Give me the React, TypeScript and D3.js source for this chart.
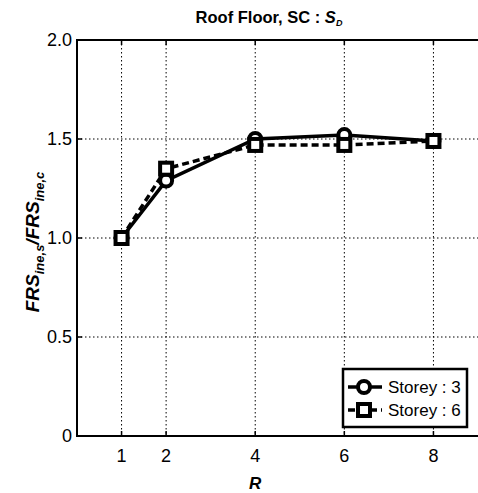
import React, { useEffect, useRef } from 'react';
import * as d3 from 'd3';

const rValues = [1, 2, 4, 6, 8];
const storey3 = [1.0, 1.29, 1.5, 1.52, 1.49];
const storey6 = [1.0, 1.35, 1.47, 1.47, 1.49];
const yTicks = [0, 0.5, 1.0, 1.5, 2.0];
const seriesNames = ['Storey : 3', 'Storey : 6'];

const App = () => {
    const ref = useRef<SVGSVGElement>(null);

    useEffect(() => {
        if (!ref.current) return;
        const svg = d3.select(ref.current);
        svg.selectAll('*').remove();

        const left = 77, right = 478, top = 40, bottom = 436;
        const x = d3.scaleLinear().domain([0, 9]).range([left, right]);
        const y = d3.scaleLinear().domain([0, 2]).range([bottom, top]);
        const font = 'Arial, Liberation Sans, sans-serif';

        svg.append('rect').attr('width', 478).attr('height', 493).attr('fill', 'white');

        // grid
        const grid = svg.append('g').attr('stroke', '#000').attr('stroke-width', 1).attr('stroke-dasharray', '1.5,2.5');
        rValues.forEach(v => {
            grid.append('line').attr('x1', x(v)).attr('x2', x(v)).attr('y1', top).attr('y2', bottom);
        });
        yTicks.slice(1, -1).forEach(v => {
            grid.append('line').attr('x1', left).attr('x2', right).attr('y1', y(v)).attr('y2', y(v));
        });

        // frame
        const frame = svg.append('g').attr('stroke', '#000').attr('stroke-width', 2).attr('fill', 'none');
        frame.append('line').attr('x1', left).attr('x2', right).attr('y1', top).attr('y2', top);
        frame.append('line').attr('x1', left).attr('x2', right).attr('y1', bottom).attr('y2', bottom);
        frame.append('line').attr('x1', left).attr('x2', left).attr('y1', top - 1).attr('y2', bottom + 1);

        // tick marks
        const ticks = svg.append('g').attr('stroke', '#000').attr('stroke-width', 1.5);
        rValues.forEach(v => {
            ticks.append('line').attr('x1', x(v)).attr('x2', x(v)).attr('y1', bottom).attr('y2', bottom - 5);
            ticks.append('line').attr('x1', x(v)).attr('x2', x(v)).attr('y1', top).attr('y2', top + 5);
        });
        yTicks.forEach(v => {
            ticks.append('line').attr('x1', left).attr('x2', left + 5).attr('y1', y(v)).attr('y2', y(v));
        });

        // tick labels
        svg.append('g').selectAll('text').data(rValues).join('text')
            .attr('x', d => x(d)).attr('y', bottom + 26)
            .attr('text-anchor', 'middle').attr('font-family', font).attr('font-size', 18)
            .text(d => d);
        svg.append('g').selectAll('text').data(yTicks).join('text')
            .attr('x', left - 5).attr('y', d => y(d) + 6)
            .attr('text-anchor', 'end').attr('font-family', font).attr('font-size', 18)
            .text(d => d === 0 ? '0' : d.toFixed(1));

        // title
        const title = svg.append('text').attr('x', 269).attr('y', 23).attr('text-anchor', 'middle')
            .attr('font-family', font).attr('font-size', 16.5).attr('font-weight', 'bold');
        title.append('tspan').text('Roof Floor, SC : ');
        title.append('tspan').attr('font-style', 'italic').text('S');
        title.append('tspan').attr('font-style', 'italic').attr('font-size', 9).attr('dy', 3).text('D');

        // axis labels
        svg.append('text').attr('x', x(4)).attr('y', 489).attr('text-anchor', 'middle')
            .attr('font-family', font).attr('font-size', 17).attr('font-weight', 'bold').attr('font-style', 'italic')
            .text('R');
        const yl = svg.append('text').attr('transform', `translate(39,${y(1) + 4}) rotate(-90)`)
            .attr('text-anchor', 'middle').attr('font-family', font).attr('font-size', 19)
            .attr('font-weight', 'bold').attr('font-style', 'italic');
        yl.append('tspan').text('FRS');
        yl.append('tspan').attr('font-size', 13).attr('dy', 5).text('ine,s');
        yl.append('tspan').attr('dy', -5).text('/FRS');
        yl.append('tspan').attr('font-size', 13).attr('dy', 5).text('ine,c');

        const line = d3.line<number>().x((_, i) => x(rValues[i])).y(d => y(d));
        const series = [
            { vals: storey3, dash: null as string | null, marker: 'circle' },
            { vals: storey6, dash: '7,4', marker: 'square' },
        ];

        const drawMarker = (g: any, cx: number, cy: number, type: string) => {
            if (type === 'circle') {
                g.append('circle').attr('cx', cx).attr('cy', cy).attr('r', 6)
                    .attr('fill', 'white').attr('stroke', '#000').attr('stroke-width', 4);
            } else {
                g.append('rect').attr('x', cx - 6).attr('y', cy - 6).attr('width', 12).attr('height', 12)
                    .attr('fill', 'white').attr('stroke', '#000').attr('stroke-width', 4);
            }
        };

        series.forEach(s => {
            svg.append('path').datum(s.vals).attr('d', line).attr('fill', 'none')
                .attr('stroke', '#000').attr('stroke-width', 3.5)
                .attr('stroke-dasharray', s.dash);
        });
        series.forEach(s => {
            const g = svg.append('g');
            s.vals.forEach((v, i) => drawMarker(g, x(rValues[i]), y(v), s.marker));
        });

        // legend
        const lg = svg.append('g');
        lg.append('rect').attr('x', 343).attr('y', 369).attr('width', 124).attr('height', 58)
            .attr('fill', 'white').attr('stroke', '#000').attr('stroke-width', 2.5);
        series.forEach((s, i) => {
            const ly = 387 + i * 23;
            lg.append('line').attr('x1', 348).attr('x2', 382).attr('y1', ly).attr('y2', ly)
                .attr('stroke', '#000').attr('stroke-width', 3.5).attr('stroke-dasharray', s.dash);
            drawMarker(lg, 364, ly, s.marker);
            lg.append('text').attr('x', 388).attr('y', ly + 6).attr('font-family', font).attr('font-size', 17)
                .text(seriesNames[i]);
        });
    }, []);

    return <svg ref={ref} width={478} height={493} style={{ position: 'absolute', left: 0, top: 0 }} />;
};

export default App;
